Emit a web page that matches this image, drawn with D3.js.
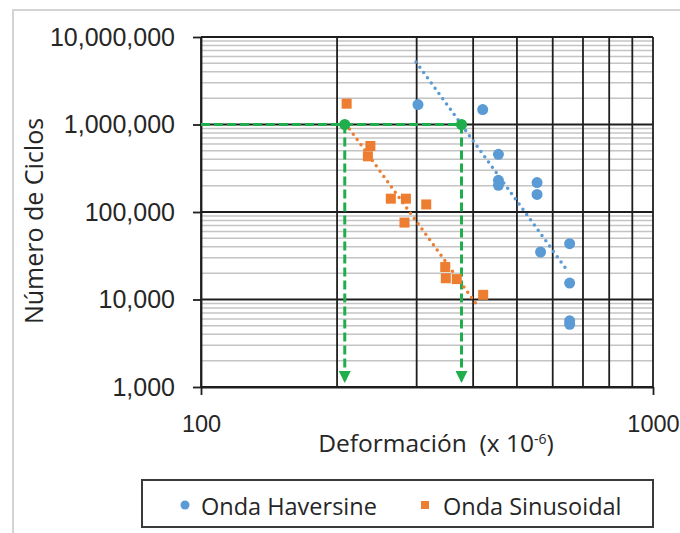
<!DOCTYPE html>
<html>
<head>
<meta charset="utf-8">
<script src="https://cdn.jsdelivr.net/npm/d3@7"></script>
<style>
  body { margin: 0; background: #fff; }
  svg { display: block; font-family: "Open Sans", sans-serif; }
</style>
</head>
<body>
<svg id="chart" width="680" height="533"></svg>
<script>
// data
const haversineDef = [302, 420, 455, 455, 455, 554, 554, 654, 564, 654, 654, 654];
const haversineCycles = [1690000, 1480000, 456000, 230000, 202000, 217000, 159000, 43500, 34900, 15400, 5700, 5200];

const sinusoidalDef = [210, 237, 234, 263, 284, 315, 282, 347, 348, 368, 421];
const sinusoidalCycles = [1730000, 568000, 433000, 142000, 142000, 122000, 75700, 23500, 17500, 17100, 11300];

// trend lines (end points)
const haversineTrendDef = [299, 650];
const haversineTrendCycles = [5180000, 20600];
const sinusoidalTrendDef = [209, 411];
const sinusoidalTrendCycles = [1020000, 8200];

// green guide lines at 1,000,000 cycles
const guideDef = [208, 377];
const guideCycles = 1000000;

const xTicks = [100, 1000];
const yTicks = [1000, 10000, 100000, 1000000, 10000000];

const blue = "#5b9bd5";
const orange = "#ed7d31";
const green = "#1fae4b";

const svg = d3.select("#chart");

// outer chart border
svg.append("rect")
  .attr("x", 13).attr("y", 10)
  .attr("width", 720).attr("height", 600)
  .attr("fill", "none")
  .attr("stroke", "#d4d4d4")
  .attr("stroke-width", 2);

const margin = { left: 201, right: 653, top: 37, bottom: 387 };

const x = d3.scaleLog().domain([100, 1000]).range([margin.left, margin.right]);
const y = d3.scaleLog().domain([1000, 10000000]).range([margin.bottom, margin.top]);

// minor horizontal grid
const minorY = y.ticks().filter(d => yTicks.indexOf(d) < 0);
svg.append("g").selectAll("line")
  .data(minorY)
  .enter().append("line")
  .attr("x1", margin.left).attr("x2", margin.right)
  .attr("y1", d => y(d)).attr("y2", d => y(d))
  .attr("stroke", "#c4c4c4")
  .attr("stroke-width", 1.5);

// vertical grid
svg.append("g").selectAll("line")
  .data(x.ticks())
  .enter().append("line")
  .attr("x1", d => x(d)).attr("x2", d => x(d))
  .attr("y1", margin.top).attr("y2", margin.bottom)
  .attr("stroke", "#1e1e1e")
  .attr("stroke-width", 1.8);

// major horizontal grid
svg.append("g").selectAll("line")
  .data(yTicks)
  .enter().append("line")
  .attr("x1", margin.left).attr("x2", margin.right)
  .attr("y1", d => y(d)).attr("y2", d => y(d))
  .attr("stroke", "#1e1e1e")
  .attr("stroke-width", 1.8);

// axes
const yAxis = svg.append("g")
  .attr("transform", `translate(${margin.left},0)`)
  .call(d3.axisLeft(y).tickValues(yTicks).tickFormat(d3.format(",")).tickSize(8).tickSizeOuter(0).tickPadding(18));
yAxis.selectAll("text").style("font-size", "25px").attr("fill", "#262626");

const xAxis = svg.append("g")
  .attr("transform", `translate(0,${margin.bottom})`)
  .call(d3.axisBottom(x).tickValues(xTicks).tickFormat(d3.format("d")).tickSize(8).tickSizeOuter(0));
xAxis.selectAll("text").style("font-size", "23.5px").attr("fill", "#262626")
  .attr("y", 45).attr("dy", 0);

svg.selectAll(".domain, .tick line").attr("stroke", "#1e1e1e").attr("stroke-width", 1.8);

// axis titles
svg.append("text")
  .attr("transform", "translate(43,221) rotate(-90)")
  .attr("text-anchor", "middle")
  .attr("fill", "#262626")
  .style("font-size", "25px")
  .text("Número de Ciclos");

const xTitle = svg.append("text")
  .attr("x", 436).attr("y", 452)
  .attr("text-anchor", "middle")
  .attr("fill", "#262626")
  .style("font-size", "24.5px")
  .style("white-space", "pre");
xTitle.append("tspan").text("Deformación  (x 10");
xTitle.append("tspan").attr("dy", -8).style("font-size", "14px").text("-6");
xTitle.append("tspan").attr("dy", 8).text(")");

// green guides
svg.append("defs").append("marker")
  .attr("id", "arrow")
  .attr("viewBox", "0 0 10 10")
  .attr("refX", 10).attr("refY", 5)
  .attr("markerUnits", "userSpaceOnUse")
  .attr("markerWidth", 12).attr("markerHeight", 12)
  .attr("orient", "auto")
  .append("path")
  .attr("d", "M0,0 L10,5 L0,10 Z")
  .attr("fill", green);

svg.append("line")
  .attr("x1", x(100)).attr("x2", x(guideDef[1]))
  .attr("y1", y(guideCycles)).attr("y2", y(guideCycles))
  .attr("stroke", green)
  .attr("stroke-width", 3)
  .attr("stroke-dasharray", "9 4");

svg.append("g").selectAll("line")
  .data(guideDef)
  .enter().append("line")
  .attr("x1", d => x(d)).attr("x2", d => x(d))
  .attr("y1", y(guideCycles)).attr("y2", y(1000) - 4)
  .attr("stroke", green)
  .attr("stroke-width", 3)
  .attr("stroke-dasharray", "9 4")
  .attr("marker-end", "url(#arrow)");

// trend lines
function trend(defs, cycles, color) {
  const pts = defs.map((d, i) => [x(d), y(cycles[i])]);
  svg.append("path")
    .attr("d", d3.line()(pts))
    .attr("fill", "none")
    .attr("stroke", color)
    .attr("stroke-width", 3.5)
    .attr("stroke-linecap", "round")
    .attr("stroke-dasharray", "0 6.5");
}
trend(haversineTrendDef, haversineTrendCycles, blue);
trend(sinusoidalTrendDef, sinusoidalTrendCycles, orange);

// points
svg.append("g").selectAll("circle")
  .data(haversineDef)
  .enter().append("circle")
  .attr("cx", d => x(d))
  .attr("cy", (d, i) => y(haversineCycles[i]))
  .attr("r", 5.5)
  .attr("fill", blue);

svg.append("g").selectAll("rect")
  .data(sinusoidalDef)
  .enter().append("rect")
  .attr("x", d => x(d) - 5)
  .attr("y", (d, i) => y(sinusoidalCycles[i]) - 5)
  .attr("width", 10).attr("height", 10)
  .attr("fill", orange);

// green dots
svg.append("g").selectAll("circle")
  .data(guideDef)
  .enter().append("circle")
  .attr("cx", d => x(d))
  .attr("cy", y(guideCycles))
  .attr("r", 5.5)
  .attr("fill", green);

// legend
const legend = svg.append("g");
legend.append("rect")
  .attr("x", 142).attr("y", 480)
  .attr("width", 511).attr("height", 47)
  .attr("fill", "#fff")
  .attr("stroke", "#3a3a3a")
  .attr("stroke-width", 2);
legend.append("circle")
  .attr("cx", 185).attr("cy", 505).attr("r", 4.5)
  .attr("fill", blue);
legend.append("text")
  .attr("x", 201).attr("y", 515)
  .attr("fill", "#262626")
  .style("font-size", "23.5px")
  .text("Onda Haversine");
legend.append("rect")
  .attr("x", 421).attr("y", 501).attr("width", 8).attr("height", 8)
  .attr("fill", orange);
legend.append("text")
  .attr("x", 443).attr("y", 515)
  .attr("fill", "#262626")
  .style("font-size", "23.5px")
  .text("Onda Sinusoidal");
</script>
</body>
</html>
